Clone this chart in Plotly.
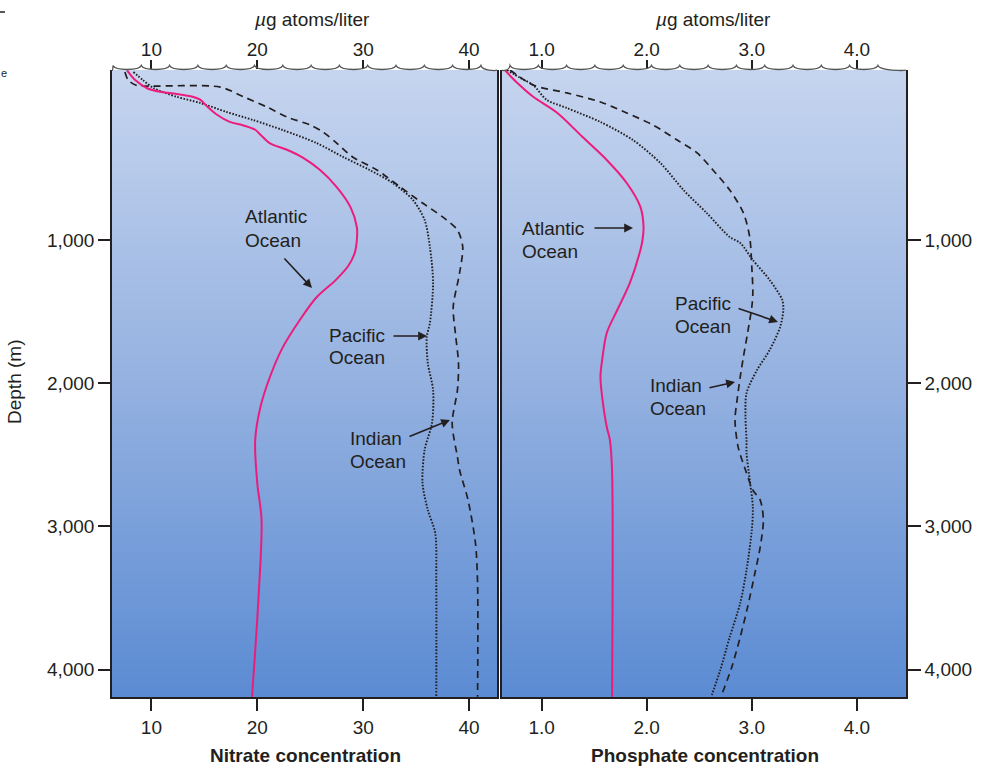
import plotly.graph_objects as go

W, H = 1002, 768

# depth in m, concentration in µg atoms/liter
atl_no3_depth = [-185, -115, -60, -35, -20, 0, 20, 70, 125, 175, 200, 230, 265, 325, 370, 425, 510,
                 630, 770, 910, 1000, 1090, 1180, 1280, 1400, 1560, 1750, 1955, 2165, 2400, 2700, 2955, 3515, 4190]
atl_no3 = [7.7, 8.5, 9.6, 10.8, 12.4, 13.9, 14.6, 15.3, 16.2, 17.4, 18.7, 19.8, 20.3, 21.2, 22.8, 24.3, 25.9,
           27.5, 28.8, 29.4, 29.4, 29.2, 28.6, 27.4, 25.6, 24.0, 22.4, 21.2, 20.3, 19.8, 20.0, 20.4, 20.1, 19.5]

pac_no3_depth = [-173, -117, -61, 0, 43, 106, 162, 232, 323, 420, 511, 602, 721, 860, 1049, 1300,
                 1579, 1677, 1859, 2047, 2278, 2466, 2697, 2885, 3046, 3395, 4190]
pac_no3 = [8.3, 9.2, 10.2, 12.4, 14.6, 17.1, 19.6, 22.4, 25.6, 28.1, 30.6, 32.8, 34.7, 35.8, 36.3, 36.6,
           36.3, 36.0, 36.1, 36.6, 36.5, 35.8, 35.6, 36.1, 36.8, 36.9, 36.9]

ind_no3_depth = [-173, -117, -82, -75, -68, 0, 71, 141, 197, 246, 323, 420, 511, 630, 742, 839, 930,
                 1049, 1231, 1468, 1649, 1859, 2047, 2278, 2515, 2606, 2816, 3116, 3395, 4190]
ind_no3 = [7.5, 7.8, 8.5, 9.2, 16.5, 18.7, 20.9, 22.8, 25.0, 26.2, 27.5, 29.0, 31.3, 33.5, 35.6, 37.5, 38.9,
           39.4, 39.1, 38.5, 38.7, 39.0, 38.9, 38.4, 38.9, 39.1, 39.9, 40.6, 40.8, 40.8]

atl_po4_depth = [-187, -96, 0, 113, 281, 441, 602, 769, 909, 1000, 1070, 1300, 1489, 1649, 1817, 1956,
                 2117, 2306, 2397, 2606, 4190]
atl_po4 = [0.65, 0.77, 0.92, 1.15, 1.39, 1.62, 1.81, 1.94, 1.97, 1.96, 1.94, 1.84, 1.72, 1.62, 1.58, 1.56,
           1.58, 1.62, 1.65, 1.67, 1.67]

pac_po4_depth = [-187, -131, -82, 22, 78, 176, 302, 462, 651, 811, 979, 1021, 1140, 1279, 1419, 1489,
                 1607, 1768, 1908, 2068, 2236, 2397, 2487, 2676, 2864, 3025, 3304, 3535, 3772, 4003, 4177]
pac_po4 = [0.67, 0.80, 0.92, 1.05, 1.24, 1.56, 1.87, 2.13, 2.35, 2.57, 2.79, 2.89, 3.01, 3.17, 3.29, 3.30,
           3.27, 3.17, 3.05, 2.95, 2.94, 2.95, 2.95, 2.98, 3.01, 3.00, 2.95, 2.89, 2.79, 2.70, 2.62]

ind_po4_depth = [-187, -82, -27, 36, 113, 197, 302, 392, 511, 651, 811, 979, 1189, 1370, 1468, 1649,
                 1817, 1956, 2117, 2257, 2446, 2606, 2746, 2816, 2955, 3144, 3325, 3563, 3772, 3982, 4163]
ind_po4 = [0.70, 0.92, 1.24, 1.56, 1.81, 2.06, 2.29, 2.48, 2.63, 2.79, 2.92, 2.98, 3.00, 3.01, 3.00, 2.96,
           2.92, 2.89, 2.86, 2.84, 2.87, 2.94, 3.01, 3.08, 3.11, 3.08, 3.03, 2.96, 2.89, 2.81, 2.72]

nitrate_ticks = [10, 20, 30, 40]
phosphate_ticks = [1.0, 2.0, 3.0, 4.0]
depth_ticks = [1000, 2000, 3000, 4000]

NO3_RANGE = [6.279, 42.635]
PO4_RANGE = [0.6232, 4.4672]
DEPTH_RANGE = [4191.3, -187.2]

INK = '#231f20'
PINK = '#ec1c7c'
FONT = 'Liberation Sans, Arial, sans-serif'
SEA = [[0, '#c6d5ef'], [0.5, '#94b1e0'], [1, '#5b8bd3']]


def px(x):
    return x / W


def py(y):
    return 1 - y / H


def wave_path(x0, x1, first, step=28.3, base=70, top=65.5):
    """Sea-surface line with little cusps, in paper coords."""
    pts = [x0]
    c = first
    while c <= x1 + 0.5:
        if c > x0 + 0.5:
            pts.append(c)
        c += step
    if pts[-1] < x1 - 0.5:
        pts.append(x1)
    cusps = set(pts[1:-1]) | {first}
    yy = lambda x: top if x in cusps else base
    d = f"M {px(pts[0]):.5f},{py(yy(pts[0])):.5f}"
    for a, b in zip(pts[:-1], pts[1:]):
        k = (b - a) * 0.08
        d += (f" C {px(a + k):.5f},{py(base + 0.8):.5f} {px(b - k):.5f},{py(base + 0.8):.5f}"
              f" {px(b):.5f},{py(yy(b)):.5f}")
    return d


fig = go.Figure()

# background gradient for each panel
fig.add_trace(go.Heatmap(x=NO3_RANGE, y=[DEPTH_RANGE[1], DEPTH_RANGE[0]], z=[[0, 0], [1, 1]],
                         colorscale=SEA, zsmooth='best', showscale=False, hoverinfo='skip',
                         xaxis='x', yaxis='y'))
fig.add_trace(go.Heatmap(x=PO4_RANGE, y=[DEPTH_RANGE[1], DEPTH_RANGE[0]], z=[[0, 0], [1, 1]],
                         colorscale=SEA, zsmooth='best', showscale=False, hoverinfo='skip',
                         xaxis='x3', yaxis='y2'))

solid = dict(color=PINK, width=2, shape='spline', smoothing=0.9)
dotted = dict(color=INK, width=1.9, dash='1.6px,1.6px', shape='spline', smoothing=0.8)
dashed = dict(color=INK, width=1.7, dash='7px,5px', shape='spline', smoothing=0.8)

for xs, ys, ln, name, xa, ya in [
    (pac_no3, pac_no3_depth, dotted, 'Pacific', 'x', 'y'),
    (ind_no3, ind_no3_depth, dashed, 'Indian', 'x', 'y'),
    (atl_no3, atl_no3_depth, solid, 'Atlantic', 'x', 'y'),
    (pac_po4, pac_po4_depth, dotted, 'Pacific', 'x3', 'y2'),
    (ind_po4, ind_po4_depth, dashed, 'Indian', 'x3', 'y2'),
    (atl_po4, atl_po4_depth, solid, 'Atlantic', 'x3', 'y2'),
]:
    fig.add_trace(go.Scatter(x=xs, y=ys, mode='lines', line=ln, name=name,
                             xaxis=xa, yaxis=ya, showlegend=False))

# keep the top axes alive
fig.add_trace(go.Scatter(x=NO3_RANGE, y=[1000, 1000], mode='markers', marker=dict(opacity=0),
                         xaxis='x2', yaxis='y', showlegend=False, hoverinfo='skip'))
fig.add_trace(go.Scatter(x=PO4_RANGE, y=[1000, 1000], mode='markers', marker=dict(opacity=0),
                         xaxis='x4', yaxis='y2', showlegend=False, hoverinfo='skip'))

tickfont = dict(family=FONT, size=19, color=INK)
common_x = dict(ticks='outside', tickwidth=1.5, tickcolor=INK, showgrid=False, zeroline=False,
                tickfont=tickfont, fixedrange=True)

fig.update_layout(
    width=W, height=H,
    margin=dict(l=0, r=0, t=0, b=0),
    paper_bgcolor='white', plot_bgcolor='white',
    font=dict(family=FONT, color=INK, size=19),
    xaxis=dict(domain=[px(112), px(497)], range=NO3_RANGE, anchor='y', tickvals=nitrate_ticks,
               ticklen=12, showline=True, linecolor=INK, linewidth=1.5, **common_x),
    xaxis2=dict(overlaying='x', side='top', range=NO3_RANGE, anchor='y', tickvals=nitrate_ticks,
                ticklen=9, ticklabelstandoff=-4, showline=False, **common_x),
    xaxis3=dict(domain=[px(502), px(906)], range=PO4_RANGE, anchor='y2', tickvals=phosphate_ticks,
                tickformat='.1f', ticklen=12, showline=True, linecolor=INK, linewidth=1.5, **common_x),
    xaxis4=dict(overlaying='x3', side='top', range=PO4_RANGE, anchor='y2', tickvals=phosphate_ticks,
                tickformat='.1f', ticklen=9, ticklabelstandoff=-4, showline=False, **common_x),
    yaxis=dict(domain=[py(697), py(70)], range=DEPTH_RANGE, anchor='x', tickvals=depth_ticks,
               tickformat=',', ticks='outside', ticklen=12, tickwidth=1.5, tickcolor=INK,
               showline=True, mirror=True, linecolor=INK, linewidth=1.5, showgrid=False,
               zeroline=False, tickfont=tickfont, fixedrange=True),
    yaxis2=dict(domain=[py(697), py(70)], range=DEPTH_RANGE, anchor='x3', side='right',
                tickvals=depth_ticks, tickformat=',', ticksuffix=' m', ticks='outside', ticklen=13,
                tickwidth=1.5, tickcolor=INK, showline=True, mirror=True, linecolor=INK,
                linewidth=1.5, showgrid=False, zeroline=False, tickfont=tickfont, fixedrange=True),
)

# sea surface
for x0, x1, first in [(112, 497, 113), (502, 906, 510)]:
    fig.add_shape(type='path', path=wave_path(x0, x1, first), xref='paper', yref='paper',
                  line=dict(color='#555555', width=1.3))

ann = []


def label(text, x, y, size=19, anchor='left', **kw):
    ann.append(dict(text=text, x=px(x), y=py(y), xref='paper', yref='paper', showarrow=False,
                    xanchor=anchor, yanchor='middle', font=dict(family=FONT, size=size, color=INK), **kw))


def arrow(tail, head):
    ann.append(dict(text='', x=px(head[0]), y=py(head[1]), xref='paper', yref='paper',
                    ax=tail[0] - head[0], ay=tail[1] - head[1], showarrow=True,
                    arrowhead=2, arrowsize=1.1, arrowwidth=1.6, arrowcolor=INK, standoff=0))


label('<i>µ</i>g atoms/liter', 312, 20, anchor='center')
label('<i>µ</i>g atoms/liter', 713, 20, anchor='center')
label('<b>Nitrate concentration</b>', 305, 755, size=19, anchor='center')
label('<b>Phosphate concentration</b>', 705, 755, size=19, anchor='center')
label('Depth (m)', 15, 382, anchor='center', textangle=-90)

for words, x, y in [(('Atlantic', 'Ocean'), 243, 217), (('Pacific', 'Ocean'), 327, 335),
                    (('Indian', 'Ocean'), 348, 438), (('Atlantic', 'Ocean'), 520, 228),
                    (('Pacific', 'Ocean'), 673, 303), (('Indian', 'Ocean'), 648, 385)]:
    label(words[0], x, y)
    label(words[1], x, y + 23)

arrow((283, 257), (312, 288))
arrow((392, 336), (427, 336))
arrow((408, 437), (450, 420))
arrow((593, 228), (633, 228))
arrow((737, 308), (778, 322))
arrow((708, 388), (735, 382))

# marks from the neighbouring figure at the left edge
ann.append(dict(text='e', x=0, y=py(73), xref='paper', yref='paper', showarrow=False,
                xanchor='left', yanchor='middle', borderpad=0,
                font=dict(family=FONT, size=11, color=INK)))
fig.add_shape(type='line', x0=0, x1=px(5), y0=py(12), y1=py(12), xref='paper', yref='paper',
              line=dict(color=INK, width=1.5))

fig.update_layout(annotations=ann)

# drop the page's default body margin so the figure sits at the window's corner
fig.write_html("out.html", config={'displayModeBar': False},
               post_script="document.body.style.margin='0';")
